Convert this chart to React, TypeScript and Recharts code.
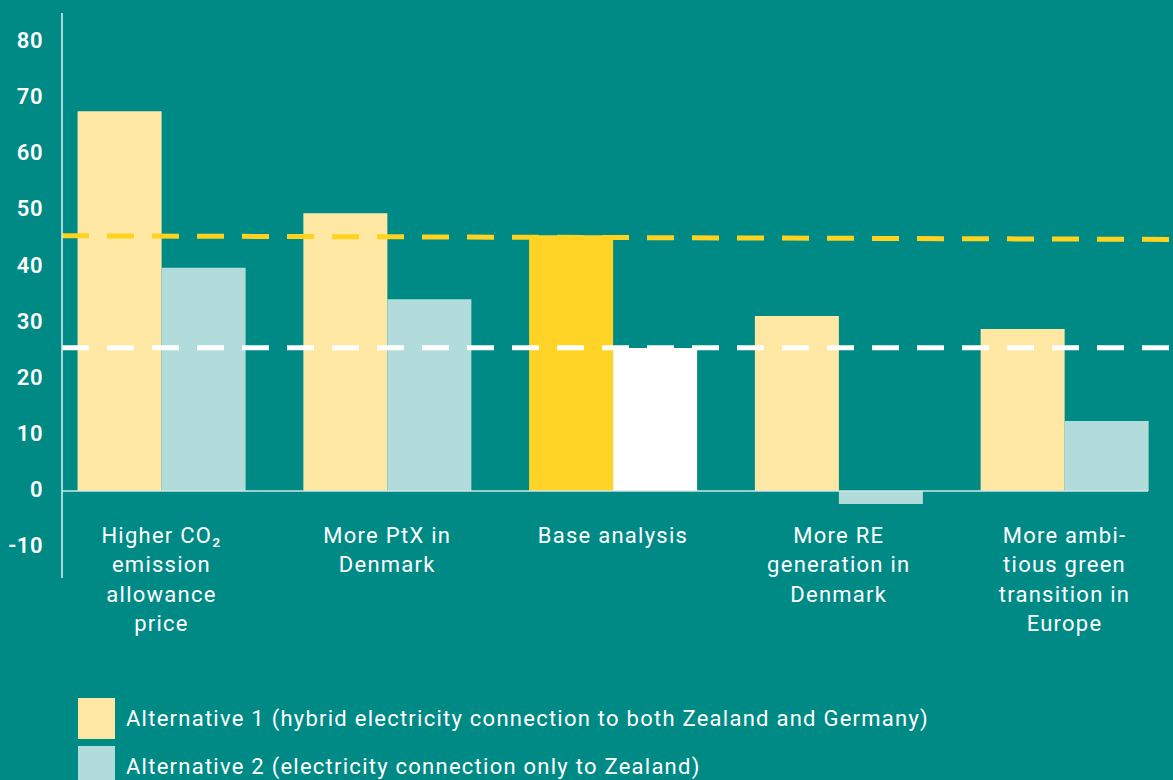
import React from "react";
import { BarChart, Bar, Cell, XAxis, YAxis, ReferenceLine, Legend } from "recharts";

const categories = [
  "Higher CO₂\nemission\nallowance\nprice",
  "More PtX in\nDenmark",
  "Base analysis",
  "More RE\ngeneration in\nDenmark",
  "More ambi-\ntious green\ntransition in\nEurope",
];
const alt1Values = [67.7, 49.5, 45.6, 31.2, 28.9];
const alt2Values = [39.8, 34.2, 25.5, -2.3, 12.5];
const yTicks = [-10, 0, 10, 20, 30, 40, 50, 60, 70, 80];
const highlightIndex = 2; // base analysis
const alt1BaseLine = [45.5, 44.85]; // dashed yellow line, left / right end
const alt2BaseLine = 25.55;

const seriesNames = [
  "Alternative 1 (hybrid electricity connection to both Zealand and Germany)",
  "Alternative 2 (electricity connection only to Zealand)",
];

const BG = "#008a86";
const ALT1 = "#ffe8a3";
const ALT2 = "#b2dcdc";
const ALT1_BASE = "#ffd426";
const ALT2_BASE = "#ffffff";
const FONT = "Roboto, sans-serif";
const SPACING = 1.25;

const data = categories.map((category, i) => ({
  category,
  alt1: alt1Values[i],
  alt2: alt2Values[i],
}));

// the line axes run over the data index, first to last category
const lastIdx = categories.length - 1;

function YTick({ x, y, payload }: any) {
  return (
    <text x={x} y={y + 6} textAnchor="end" fill="#fff" fontSize={22} fontWeight={600} fontFamily={FONT} letterSpacing={0.5}>
      {payload.value}
    </text>
  );
}

function XTick({ x, y, payload }: any) {
  const lines = String(payload.value).split("\n");
  return (
    <text x={x} y={y - 35} textAnchor="middle" fill="#fff" fontSize={22} fontFamily={FONT} letterSpacing={SPACING}>
      {lines.map((line, i) => (
        <tspan key={i} x={x} dy={i === 0 ? 0 : 29.3}>
          {line}
        </tspan>
      ))}
    </text>
  );
}

function LegendContent() {
  const colors = [ALT1, ALT2];
  return (
    <div style={{ fontFamily: FONT, color: "#fff", fontSize: 22, letterSpacing: SPACING }}>
      {seriesNames.map((name, i) => (
        <div key={name} style={{ display: "flex", alignItems: "center", height: 41, marginBottom: 7 }}>
          <div style={{ width: 37, height: 41, background: colors[i], marginRight: 11 }} />
          <span>{name}</span>
        </div>
      ))}
    </div>
  );
}

export default function App() {
  return (
    <div
      style={{
        position: "fixed",
        left: 0,
        top: 0,
        width: 1173,
        height: 780,
        overflow: "hidden",
        background: BG,
      }}
    >
      <BarChart
        width={1173}
        height={780}
        data={data}
        margin={{ top: 13, right: 0, left: 0, bottom: 0 }}
        barCategoryGap={29}
        barGap={0}
      >
        <XAxis
          dataKey="category"
          height={202}
          axisLine={false}
          tickLine={false}
          tickSize={0}
          tickMargin={0}
          interval={0}
          padding={{ left: -13.4, right: -4.4 }}
          tick={<XTick />}
        />
        <XAxis
          xAxisId="zero"
          type="number"
          domain={[0, lastIdx]}
          allowDataOverflow
          hide
          padding={{ left: 0, right: 25 }}
        />
        <XAxis xAxisId="full" type="number" domain={[0, lastIdx]} allowDataOverflow hide />
        <YAxis
          domain={[-15.5, 85.2]}
          allowDataOverflow
          ticks={yTicks}
          interval={0}
          width={62}
          tickSize={0}
          tickMargin={19}
          tickLine={false}
          axisLine={{ stroke: "#dff0f0", strokeWidth: 1.5 }}
          tick={<YTick />}
        />
        <Bar dataKey="alt1" name={seriesNames[0]} fill={ALT1} isAnimationActive={false}>
          {data.map((_, i) => (
            <Cell key={i} fill={i === highlightIndex ? ALT1_BASE : ALT1} />
          ))}
        </Bar>
        <Bar dataKey="alt2" name={seriesNames[1]} fill={ALT2} isAnimationActive={false}>
          {data.map((_, i) => (
            <Cell key={i} fill={i === highlightIndex ? ALT2_BASE : ALT2} />
          ))}
        </Bar>
        <ReferenceLine
          xAxisId="zero"
          segment={[
            { x: 0, y: 0 },
            { x: lastIdx, y: 0 },
          ]}
          stroke="#cfe6e5"
          strokeWidth={1.5}
        />
        <ReferenceLine
          xAxisId="full"
          segment={[
            { x: 0, y: alt1BaseLine[0] },
            { x: lastIdx, y: alt1BaseLine[1] },
          ]}
          stroke="#ffd21f"
          strokeWidth={5}
          strokeDasharray="27 18"
        />
        <ReferenceLine
          xAxisId="full"
          segment={[
            { x: 0, y: alt2BaseLine },
            { x: lastIdx, y: alt2BaseLine },
          ]}
          stroke="#ffffff"
          strokeWidth={5}
          strokeDasharray="27 18"
        />
        <Legend
          verticalAlign="middle"
          align="center"
          content={<LegendContent />}
          wrapperStyle={{ left: 78, top: 698, width: 1000, height: 90 }}
        />
      </BarChart>
    </div>
  );
}
